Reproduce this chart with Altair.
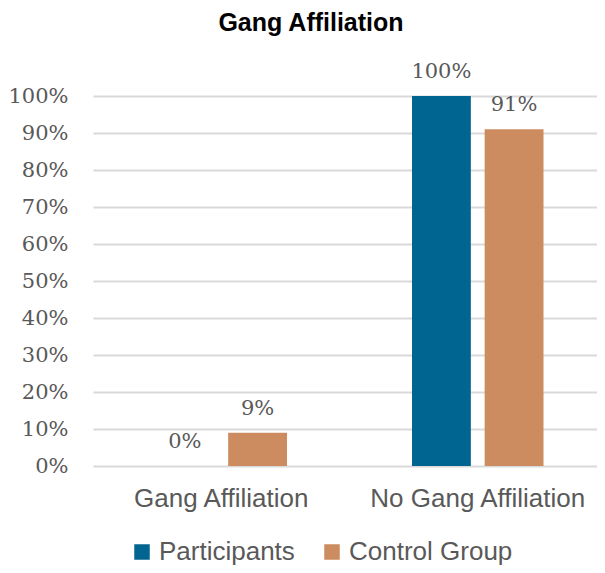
import altair as alt
import pandas as pd

categories = ["Gang Affiliation", "No Gang Affiliation"]
groups = ["Participants", "Control Group"]
participants = [0.00, 1.00]
control = [0.09, 0.91]
colors = ["#006591", "#cd8c5f"]
tick_values = [0.0, 0.1, 0.2, 0.3, 0.4, 0.5, 0.6, 0.7, 0.8, 0.9, 1.0]

rows = []
for i, c in enumerate(categories):
    rows.append({"cat": c, "group": groups[0], "val": participants[i]})
    rows.append({"cat": c, "group": groups[1], "val": control[i]})
df = pd.DataFrame(rows)

x = alt.X("cat:N", sort=categories, title=None,
          scale=alt.Scale(paddingInner=0, paddingOuter=0, range=[0, 513]),
          axis=alt.Axis(labelAngle=0, labelFont="Liberation Sans", labelFontSize=26,
                        labelColor="#595959", labelPadding=19, labelLimit=0,
                        domain=False, ticks=False))
xo = alt.XOffset("group:N", sort=groups,
                 scale=alt.Scale(paddingInner=0.19, paddingOuter=0.86))
y = alt.Y("val:Q", title=None,
          scale=alt.Scale(domain=[0, 1], nice=False),
          axis=alt.Axis(format=".0%", values=tick_values, labelOverlap=False,
                        labelFont="DejaVu Serif", labelFontSize=21, labelColor="#595959",
                        labelPadding=25, domain=False, ticks=False,
                        gridColor="#d9d9d9", gridWidth=2))

bars = alt.Chart(df).mark_bar().encode(
    x=x, xOffset=xo, y=y,
    color=alt.Color("group:N", sort=groups,
                    scale=alt.Scale(domain=groups, range=colors),
                    legend=alt.Legend(title=None, orient="none", direction="horizontal",
                                      legendX=36, legendY=443,
                                      symbolType="square", symbolSize=240,
                                      symbolStrokeWidth=0, labelLimit=0,
                                      labelFont="Liberation Sans", labelFontSize=26,
                                      labelColor="#595959", columnPadding=24,
                                      symbolOffset=0, labelOffset=4)),
)

labels = alt.Chart(df).mark_text(
    font="DejaVu Serif", fontSize=21, color="#595959", baseline="alphabetic", dy=-18
).encode(
    x=x, xOffset=xo, y=y,
    text=alt.Text("val:Q", format=".0%"),
)

chart = (bars + labels).properties(
    width=504, height=370,
    autosize=alt.AutoSizeParams(type="none"),
    padding={"left": 85, "top": 88, "right": 0, "bottom": 99},
    title=alt.TitleParams("Gang Affiliation", font="Liberation Sans", fontSize=25,
                          fontWeight="bold", color="#000000", dx=-34, offset=25),
).configure_view(stroke=None)

chart.save("out.html", embed_options={"renderer": "svg", "actions": False})
